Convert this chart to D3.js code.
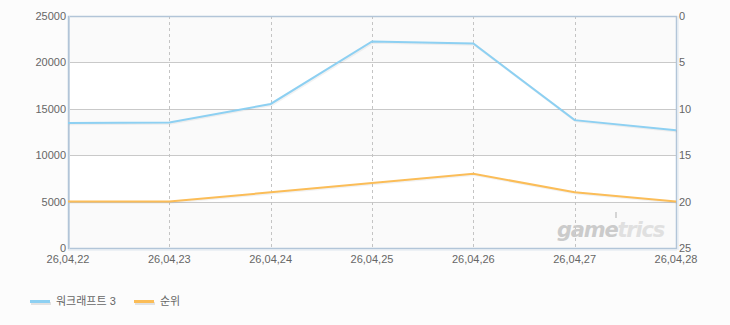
<!DOCTYPE html>
<html><head><meta charset="utf-8">
<script src="https://cdn.jsdelivr.net/npm/d3@7"></script>
<style>
html,body{margin:0;padding:0;background:#fcfcfc;}
svg{display:block;font-family:"Liberation Sans",Arial,"Noto Sans CJK KR",sans-serif;}
</style></head><body>
<svg id="c" width="730" height="325"></svg>
<script>
const categories = ["26,04,22","26,04,23","26,04,24","26,04,25","26,04,26","26,04,27","26,04,28"];
const seriesNames = ["워크래프트 3","순위"];
const users = [13480, 13520, 15520, 22250, 22030, 13780, 12700];
const ranks = [20, 20, 19, 18, 17, 19, 20];
const leftTicks = [0,5000,10000,15000,20000,25000];
const rightTicks = [0,5,10,15,20,25];
const colors = ["#8dd0f2","#fbbd58"];

const svg = d3.select("#c");
const L=68,R=676,T=16,B=248;
const x = d3.scalePoint().domain(categories).range([L,R]);
const yL = d3.scaleLinear().domain([0,25000]).range([B,T]);
const yR = d3.scaleLinear().domain([0,25]).range([T,B]);

// bands
for(let i=0;i<leftTicks.length-1;i++){
  svg.append("rect").attr("x",L).attr("width",R-L)
    .attr("y",yL(leftTicks[i+1])).attr("height",yL(leftTicks[i])-yL(leftTicks[i+1]))
    .attr("fill", i%2===0 ? "#fafafa" : "#ffffff");
}
// horizontal grid
svg.append("g").selectAll("line").data(leftTicks.slice(1,-1)).join("line")
  .attr("x1",L).attr("x2",R).attr("y1",d=>Math.round(yL(d))+0.5).attr("y2",d=>Math.round(yL(d))+0.5)
  .attr("stroke","#c9c9c9").attr("stroke-width",1);
// vertical dashed grid
svg.append("g").selectAll("line").data(categories.slice(1,-1)).join("line")
  .attr("x1",d=>Math.round(x(d))+0.5).attr("x2",d=>Math.round(x(d))+0.5).attr("y1",T).attr("y2",B)
  .attr("stroke","#c4c4c4").attr("stroke-dasharray","3,3");

// watermark
const wm = svg.append("text").attr("x",557).attr("y",237)
  .attr("font-family","'DejaVu Sans',sans-serif").attr("font-style","italic").attr("font-weight","bold")
  .attr("font-size",21).attr("letter-spacing","-1.2");
wm.append("tspan").attr("fill","#cbcbcb").text("game");
wm.append("tspan").attr("fill","#e0e0e0").text("trics");
svg.append("rect").attr("x",615).attr("y",212).attr("width",2).attr("height",6).attr("fill","#d5d5d5");

// frame
svg.append("rect").attr("x",L+0.5).attr("y",T+0.5).attr("width",R-L).attr("height",B-T)
  .attr("fill","none").attr("stroke","#b2c5d8").attr("stroke-width",1.5);
svg.append("line").attr("x1",L+1.5).attr("x2",L+1.5).attr("y1",T).attr("y2",B+1).attr("stroke","#c9d6e3");
svg.append("line").attr("x1",L).attr("x2",R+1).attr("y1",B+2).attr("y2",B+2).attr("stroke","#dde5ee");
svg.append("line").attr("x1",R+2).attr("x2",R+2).attr("y1",T).attr("y2",B+2).attr("stroke","#dde5ee");

// lines
const lineU = d3.line().x((d,i)=>x(categories[i])).y(d=>yL(d));
const lineR = d3.line().x((d,i)=>x(categories[i])).y(d=>yR(d));
svg.append("path").attr("d",lineU(users)).attr("fill","none").attr("stroke","#000").attr("stroke-opacity",0.05).attr("stroke-width",2.5).attr("transform","translate(1,1)");
svg.append("path").attr("d",lineR(ranks)).attr("fill","none").attr("stroke","#000").attr("stroke-opacity",0.05).attr("stroke-width",2.5).attr("transform","translate(1,1)");
svg.append("path").attr("d",lineU(users)).attr("fill","none").attr("stroke",colors[0]).attr("stroke-width",2);
svg.append("path").attr("d",lineR(ranks)).attr("fill","none").attr("stroke",colors[1]).attr("stroke-width",2);

// axes labels
const tc="#666", fs=11;
svg.append("g").selectAll("text").data(leftTicks).join("text")
  .attr("x",66).attr("y",d=>yL(d)+4).attr("text-anchor","end").attr("font-size",fs).attr("fill",tc).text(d=>d);
svg.append("g").selectAll("text").data(rightTicks).join("text")
  .attr("x",679).attr("y",d=>yR(d)+4).attr("text-anchor","start").attr("font-size",fs).attr("fill",tc).text(d=>d);
svg.append("g").selectAll("text").data(categories).join("text")
  .attr("x",d=>x(d)).attr("y",263).attr("text-anchor","middle").attr("font-size",fs).attr("fill",tc).text(d=>d);

// legend
const lg=[{x:30,n:seriesNames[0],c:colors[0]},{x:134,n:seriesNames[1],c:colors[1]}];
lg.forEach(o=>{
  svg.append("rect").attr("x",o.x+1).attr("y",302).attr("width",20).attr("height",3).attr("fill","#e2e2e2");
  svg.append("rect").attr("x",o.x).attr("y",300).attr("width",20).attr("height",3).attr("fill",o.c);
  svg.append("text").attr("x",o.x+26).attr("y",305).attr("font-size",11).attr("fill",tc).text(o.n);
});
</script></body></html>
